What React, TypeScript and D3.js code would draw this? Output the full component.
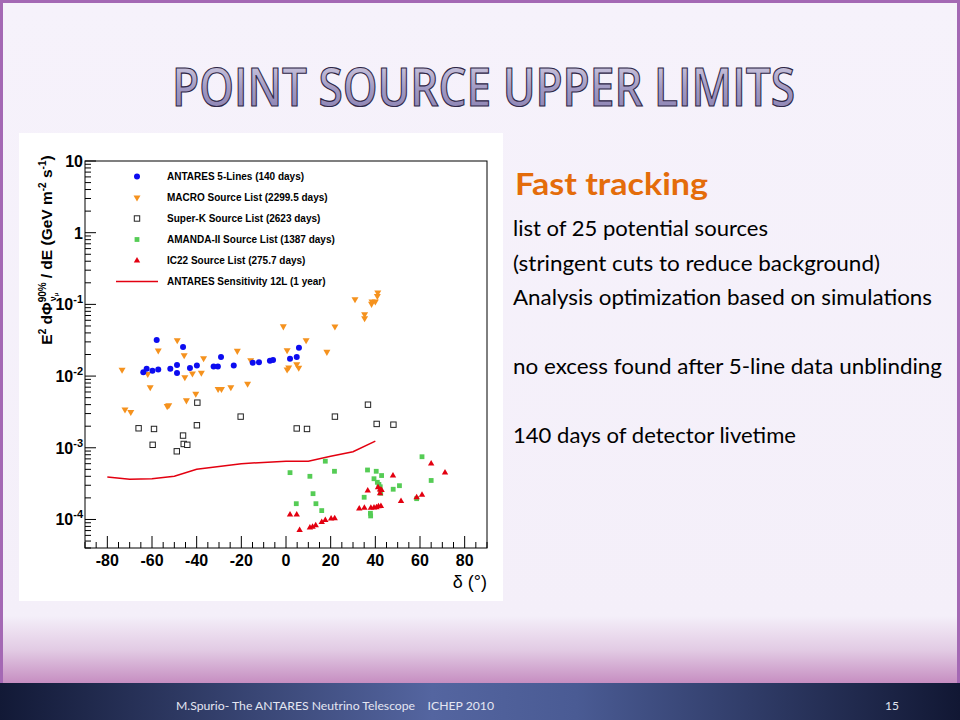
import React, { useRef, useEffect } from 'react';
import * as d3 from 'd3';

// --- data: [declination (deg), E^2 dPhi/dE limit (GeV m^-2 s^-1)] ---
const antares5L: [number, number][] = [
    [-63.9, 0.0113], [-62.4, 0.0127], [-59.8, 0.0119], [-57.2, 0.0124], [-57.9, 0.0319],
    [-51.8, 0.0127], [-48.8, 0.0143], [-48.8, 0.0110], [-46.1, 0.0255], [-43.0, 0.0130],
    [-39.9, 0.0140], [-32.4, 0.0136], [-30.5, 0.0136], [-29.1, 0.0184], [-23.4, 0.0140],
    [-14.9, 0.0154], [-12.1, 0.0156], [-7.2, 0.0164], [-5.8, 0.0167], [1.8, 0.0175],
    [4.8, 0.0184], [5.8, 0.0248],
];

const macroList: [number, number][] = [
    [-73.4, 0.0122], [-72.1, 0.0034], [-69.5, 0.00314], [-61.9, 0.0107], [-60.8, 0.00698],
    [-57.2, 0.0226], [-53.2, 0.0038], [-52.5, 0.0039], [-48.7, 0.0316], [-45.6, 0.0194],
    [-45.3, 0.0096], [-44.6, 0.00457], [-41.9, 0.0108], [-40.4, 0.00566], [-37.9, 0.0111],
    [-36.9, 0.0177], [-30.4, 0.0066], [-28.9, 0.0066], [-24.7, 0.00698], [-21.8, 0.0224],
    [-17.2, 0.0078], [-15.8, 0.0166], [-1.2, 0.0492], [0.5, 0.0228], [0.5, 0.0123],
    [1.2, 0.0131], [4.8, 0.0146], [5.7, 0.0130], [9.0, 0.0316], [18.3, 0.0217],
    [21.9, 0.0489], [30.9, 0.118], [35.2, 0.0728], [35.2, 0.064], [38.3, 0.1014],
    [38.5, 0.109], [40.0, 0.109], [40.9, 0.131], [41.1, 0.1466],
];

const superKList: [number, number][] = [
    [-66.0, 0.00187], [-59.1, 0.00183], [-59.7, 0.00110], [-48.9, 0.000893], [-46.1, 0.00148],
    [-45.8, 0.00113], [-44.2, 0.00110], [-39.7, 0.00426], [-39.9, 0.00206], [-20.3, 0.00272],
    [4.8, 0.00186], [9.4, 0.00183], [21.9, 0.00272], [36.7, 0.00399], [40.6, 0.00215],
    [48.1, 0.0021],
];

const amandaList: [number, number][] = [
    [1.8, 4.5e-4], [4.6, 1.66e-4], [10.7, 4.0e-4], [12.1, 2.29e-4], [13.4, 1.66e-4],
    [16.0, 1.33e-4], [17.6, 6.5e-4], [21.7, 4.7e-4], [35.0, 2.04e-4], [36.5, 4.9e-4],
    [37.8, 1.22e-4], [37.9, 1.12e-4], [39.4, 3.7e-4], [40.4, 4.7e-4], [40.9, 3.3e-4],
    [41.6, 3.08e-4], [42.2, 2.86e-4], [42.4, 2.32e-4], [42.8, 4.1e-4], [48.0, 2.64e-4],
    [50.8, 2.96e-4], [58.5, 1.95e-4], [60.9, 7.5e-4], [65.0, 3.5e-4],
];

const ic22List: [number, number][] = [
    [1.8, 1.17e-4], [4.8, 1.17e-4], [6.1, 7.1e-5], [10.7, 7.7e-5], [11.9, 7.9e-5],
    [13.3, 8.3e-5], [16.0, 9.2e-5], [17.6, 9.8e-5], [20.2, 1.03e-4], [21.8, 1.04e-4],
    [32.8, 1.42e-4], [35.1, 1.45e-4], [36.6, 2.52e-4], [38.0, 1.45e-4], [39.4, 1.46e-4],
    [40.5, 1.48e-4], [41.4, 1.52e-4], [42.5, 1.54e-4], [41.2, 2.81e-4], [42.1, 2.62e-4],
    [42.8, 2.58e-4], [42.1, 2.32e-4], [47.9, 4.1e-4], [51.5, 1.8e-4], [58.5, 2.04e-4],
    [60.9, 2.2e-4], [65.0, 6.0e-4], [71.2, 4.5e-4],
];

const sensitivityDec = [-80, -70, -60, -50, -40, -20, 0, 10, 20, 30, 40];
const sensitivityFlux = [3.9e-4, 3.65e-4, 3.7e-4, 4.0e-4, 5.0e-4, 6.0e-4, 6.5e-4, 6.5e-4, 7.6e-4, 8.8e-4, 1.24e-3];

const xTickLabels = [-80, -60, -40, -20, 0, 20, 40, 60, 80];
const yDecades = [1, 0, -1, -2, -3, -4];

const legendLabels = [
    'ANTARES 5-Lines (140 days)',
    'MACRO Source List (2299.5 days)',
    'Super-K Source List (2623 days)',
    'AMANDA-II Source List (1387 days)',
    'IC22 Source List (275.7 days)',
    'ANTARES Sensitivity 12L (1 year)',
];

const bulletLines = [
    'list of 25 potential sources',
    '(stringent cuts to reduce background)',
    'Analysis optimization based on simulations',
    '',
    'no excess found after 5-line data unblinding',
    '',
    '140 days of detector livetime',
];

// --- layout ---
const frame = { left: 85, right: 487, top: 161, bottom: 548 };
const bulletWidths = [255, 367, 419, 0, 429, 0, 283];
const chartFont = '"Liberation Sans", Arial, sans-serif';
const slideFont = 'Lato, "Open Sans", sans-serif';

const BLUE = '#0c0cf0';
const ORANGE = '#f5921e';
const GREEN = '#55cc55';
const RED = '#e30010';

const triDown = (w: number) => `M${-w / 2},${-w * 0.3}L${w / 2},${-w * 0.3}L0,${w * 0.56}Z`;
const triUp = (w: number) => `M${-w / 2},${w * 0.3}L${w / 2},${w * 0.3}L0,${-w * 0.56}Z`;

const drawMarker = (sel: any, kind: string) => {
    if (kind === 'circle') {
        sel.append('circle').attr('r', 3).attr('fill', BLUE);
    } else if (kind === 'tridown') {
        sel.append('path').attr('d', triDown(7)).attr('fill', ORANGE);
    } else if (kind === 'open') {
        sel.append('rect').attr('x', -2.7).attr('y', -2.7).attr('width', 5.4).attr('height', 5.4)
            .attr('fill', 'white').attr('stroke', '#222').attr('stroke-width', 1);
    } else if (kind === 'green') {
        sel.append('rect').attr('x', -2.4).attr('y', -2.4).attr('width', 4.8).attr('height', 4.8).attr('fill', GREEN);
    } else if (kind === 'triup') {
        sel.append('path').attr('d', triUp(6.4)).attr('fill', RED);
    }
};

const Chart: React.FC = () => {
    const gRef = useRef<SVGGElement>(null);

    useEffect(() => {
        if (!gRef.current) return;
        const g = d3.select(gRef.current);
        g.selectAll('*').remove();

        const x = d3.scaleLinear().domain([-90, 90]).range([frame.left, frame.right]);
        const y = d3.scaleLog().domain([4e-5, 10]).range([frame.bottom, frame.top]);

        // frame
        g.append('rect')
            .attr('x', frame.left).attr('y', frame.top)
            .attr('width', frame.right - frame.left).attr('height', frame.bottom - frame.top)
            .attr('fill', 'white').attr('stroke', '#000').attr('stroke-width', 1);

        // x ticks
        g.append('g').selectAll('line')
            .data(d3.range(-90, 91, 5))
            .join('line')
            .attr('x1', d => x(d)).attr('x2', d => x(d))
            .attr('y1', frame.bottom)
            .attr('y2', d => frame.bottom - (d % 20 === 0 ? 12 : 6))
            .attr('stroke', '#000');

        g.append('g').selectAll('text')
            .data(xTickLabels)
            .join('text')
            .attr('x', d => x(d)).attr('y', 566)
            .attr('text-anchor', 'middle')
            .attr('font-family', chartFont).attr('font-weight', 'bold').attr('font-size', 16)
            .text(d => d);

        // y ticks (log)
        const yTicks: { v: number, major: boolean }[] = [];
        for (let e = -5; e <= 1; e++) {
            for (let m = 1; m <= 9; m++) {
                const v = m * Math.pow(10, e);
                if (v >= 4e-5 && v <= 10) yTicks.push({ v, major: m === 1 });
            }
        }
        g.append('g').selectAll('line')
            .data(yTicks)
            .join('line')
            .attr('x1', frame.left).attr('x2', d => frame.left + (d.major ? 11 : 6))
            .attr('y1', d => y(d.v)).attr('y2', d => y(d.v))
            .attr('stroke', '#000');

        const yl = g.append('g').selectAll('text')
            .data(yDecades)
            .join('text')
            .attr('x', 83).attr('y', d => y(Math.pow(10, d)) + 6)
            .attr('text-anchor', 'end')
            .attr('font-family', chartFont).attr('font-weight', 'bold').attr('font-size', 16);
        yl.each(function (d) {
            const t = d3.select(this);
            if (d === 1) t.text('10');
            else if (d === 0) t.text('1');
            else {
                t.append('tspan').text('10');
                t.append('tspan').attr('dy', -7).attr('font-size', 11).text(String(d));
            }
        });

        // axis titles
        const yt = g.append('text')
            .attr('transform', 'translate(52,250) rotate(-90)')
            .attr('text-anchor', 'middle')
            .attr('font-family', chartFont).attr('font-weight', 'bold').attr('font-size', 15.5);
        yt.append('tspan').text('E');
        yt.append('tspan').attr('dy', -6).attr('font-size', 10).text('2');
        yt.append('tspan').attr('dy', 6).text(' d\u03a6');
        yt.append('tspan').attr('dy', -6).attr('font-size', 10).text('90%');
        yt.append('tspan').attr('dx', -19).attr('dy', 10).attr('font-size', 9).text('\u03bd');
        yt.append('tspan').attr('dy', 2).attr('font-size', 6).text('\u03bc');
        yt.append('tspan').attr('dx', 10).attr('dy', -6).text(' / dE (GeV m');
        yt.append('tspan').attr('dy', -6).attr('font-size', 10).text('-2');
        yt.append('tspan').attr('dy', 6).text(' s');
        yt.append('tspan').attr('dy', -6).attr('font-size', 10).text('-1');
        yt.append('tspan').attr('dy', 6).text(')');

        g.append('text')
            .attr('x', 487).attr('y', 588)
            .attr('text-anchor', 'end')
            .attr('font-family', chartFont).attr('font-size', 18)
            .text('\u03b4 (\u00b0)');

        // sensitivity curve
        const line = d3.line<number>()
            .x(d => x(d))
            .y((d, i) => y(sensitivityFlux[i]));
        g.append('path')
            .attr('d', line(sensitivityDec))
            .attr('fill', 'none').attr('stroke', RED).attr('stroke-width', 1.5);

        // markers
        const series: [string, [number, number][]][] = [
            ['open', superKList],
            ['tridown', macroList],
            ['circle', antares5L],
            ['green', amandaList],
            ['triup', ic22List],
        ];
        series.forEach(([kind, pts]) => {
            const m = g.append('g').selectAll('g')
                .data(pts)
                .join('g')
                .attr('transform', d => `translate(${x(d[0])},${y(d[1])})`);
            drawMarker(m, kind);
        });

        // legend
        const kinds = ['circle', 'tridown', 'open', 'green', 'triup', 'line'];
        const leg = g.append('g').selectAll('g')
            .data(legendLabels)
            .join('g')
            .attr('transform', (d, i) => `translate(0,${176.5 + i * 21})`);
        leg.each(function (d, i) {
            const row = d3.select(this);
            if (kinds[i] === 'line') {
                row.append('line').attr('x1', 116).attr('x2', 158).attr('y1', 0).attr('y2', 0)
                    .attr('stroke', RED).attr('stroke-width', 1.5);
            } else {
                drawMarker(row.append('g').attr('transform', 'translate(137,0)'), kinds[i]);
            }
            row.append('text')
                .attr('x', 167).attr('y', 3.6)
                .attr('font-family', chartFont).attr('font-weight', 'bold').attr('font-size', 10)
                .text(d);
        });
    }, []);

    return <g ref={gRef} />;
};

export default function App() {
    return (
        <svg width={960} height={720} style={{ position: 'absolute', left: 0, top: 0 }}>
            <defs>
                <linearGradient id="slideBg" x1="0" y1="0" x2="0" y2="1">
                    <stop offset="0" stopColor="#f6f2fb" />
                    <stop offset="0.9" stopColor="#f4eff9" />
                    <stop offset="0.95" stopColor="#e2cbe4" />
                    <stop offset="1" stopColor="#c58cc0" />
                </linearGradient>
                <linearGradient id="footBg" x1="0" y1="0" x2="1" y2="0">
                    <stop offset="0" stopColor="#121936" />
                    <stop offset="0.45" stopColor="#5465a0" />
                    <stop offset="0.6" stopColor="#4a5b94" />
                    <stop offset="1" stopColor="#111733" />
                </linearGradient>
                <linearGradient id="titleFill" x1="0" y1="0" x2="0" y2="1">
                    <stop offset="0" stopColor="#e2deec" />
                    <stop offset="0.55" stopColor="#a098c2" />
                    <stop offset="1" stopColor="#857bae" />
                </linearGradient>
            </defs>

            {/* slide */}
            <rect x={0} y={0} width={960} height={684} fill="#a468b4" />
            <rect x={3} y={3} width={954} height={681} fill="url(#slideBg)" />
            <rect x={0} y={683} width={960} height={37} fill="url(#footBg)" />

            <text x={172} y={106} textLength={623} lengthAdjust="spacingAndGlyphs"
                fontFamily='"Open Sans", sans-serif' fontSize={52} fontWeight={600}
                fill="url(#titleFill)" stroke="#2e2646" strokeWidth={1.2}>
                POINT SOURCE UPPER LIMITS
            </text>

            {/* chart panel */}
            <rect x={19} y={133} width={484} height={468} fill="#ffffff" />
            <Chart />

            {/* right-hand text */}
            <text x={515} y={195} fontFamily={slideFont} fontWeight="bold" fontSize={30} fill="#e46c0a"
                textLength={193} lengthAdjust="spacingAndGlyphs">
                Fast tracking
            </text>
            {bulletLines.map((t, i) => t && (
                <text key={i} x={513} y={236 + i * 34.5} fontFamily={slideFont} fontSize={20.5} fill="#000"
                    textLength={bulletWidths[i]} lengthAdjust="spacingAndGlyphs">
                    {t}
                </text>
            ))}

            {/* footer */}
            <text x={176} y={710} fontFamily={slideFont} fontSize={12} fill="#e4e6f2"
                textLength={318} lengthAdjust="spacingAndGlyphs">
                M.Spurio- The ANTARES Neutrino Telescope{'\u00a0\u00a0\u00a0\u00a0'}ICHEP 2010
            </text>
            <text x={885} y={710} fontFamily={slideFont} fontSize={12} fill="#e4e6f2">15</text>
        </svg>
    );
}
